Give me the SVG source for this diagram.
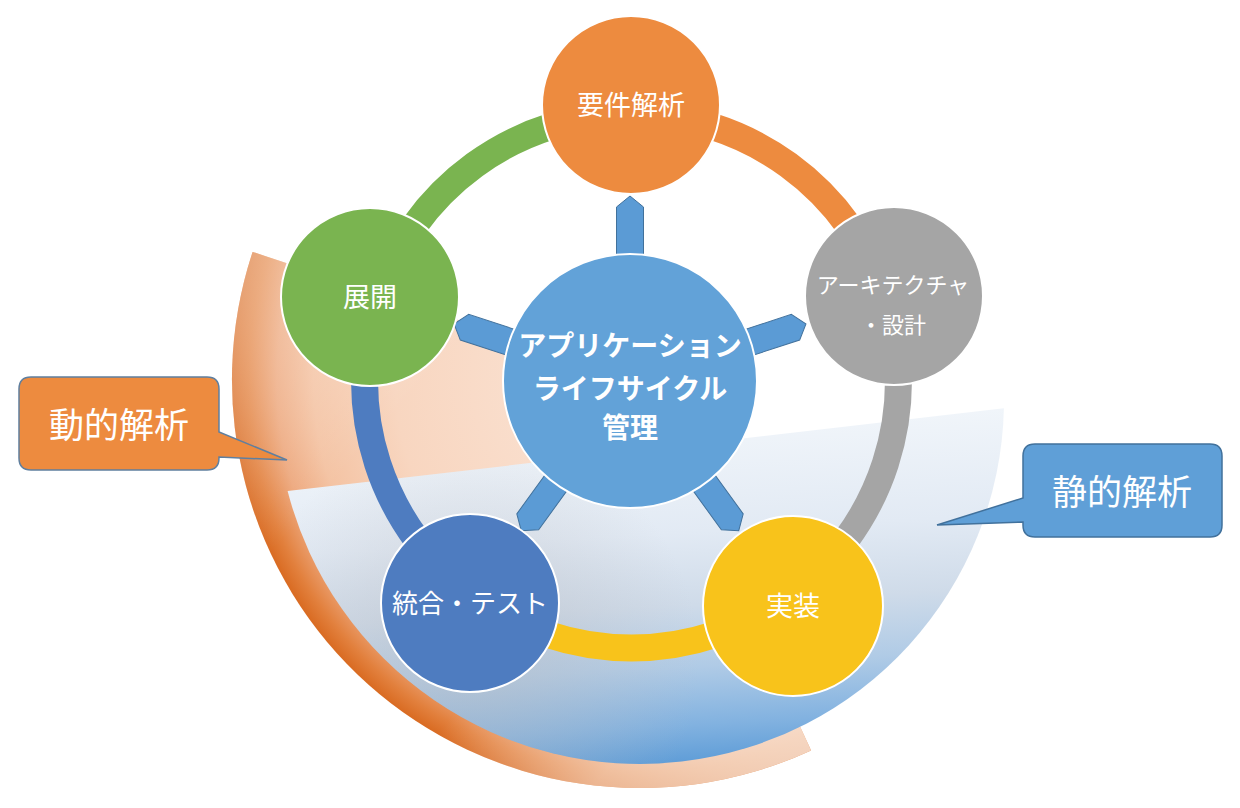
<svg xmlns="http://www.w3.org/2000/svg" width="1240" height="808" viewBox="0 0 1240 808">
  <defs>
    <radialGradient id="gOrange" gradientUnits="userSpaceOnUse" cx="640" cy="380" r="408">
      <stop offset="0" stop-color="#fbe6d9"/>
      <stop offset="0.6" stop-color="#f8d6c0"/>
      <stop offset="0.8" stop-color="#f4c3a3"/>
      <stop offset="0.89" stop-color="#eda77c"/>
      <stop offset="0.96" stop-color="#e2803d"/>
      <stop offset="1" stop-color="#d96b22"/>
    </radialGradient>
    <linearGradient id="gOrangeFade" gradientUnits="userSpaceOnUse" x1="255" y1="253" x2="820" y2="760">
      <stop offset="0" stop-color="#ffffff" stop-opacity="0.4"/>
      <stop offset="0.28" stop-color="#ffffff" stop-opacity="0"/>
      <stop offset="0.6" stop-color="#ffffff" stop-opacity="0"/>
      <stop offset="0.8" stop-color="#ffffff" stop-opacity="0.5"/>
      <stop offset="1" stop-color="#ffffff" stop-opacity="0.72"/>
    </linearGradient>
    <linearGradient id="gBlue" gradientUnits="userSpaceOnUse" x1="640" y1="408" x2="660" y2="770">
      <stop offset="0" stop-color="#f3f7fb"/>
      <stop offset="0.35" stop-color="#e2eaf4"/>
      <stop offset="0.55" stop-color="#cfdbe9"/>
      <stop offset="0.72" stop-color="#b0cbe6"/>
      <stop offset="0.88" stop-color="#82b2e0"/>
      <stop offset="1" stop-color="#5a9ad6"/>
    </linearGradient>
    <radialGradient id="gGray" gradientUnits="userSpaceOnUse" cx="470" cy="660" r="230">
      <stop offset="0" stop-color="#b9bcc3" stop-opacity="0.55"/>
      <stop offset="1" stop-color="#b9bcc3" stop-opacity="0"/>
    </radialGradient>
    <style>
      .txt { font-family: "Noto Sans CJK JP", "Noto Sans CJK SC", sans-serif; fill: #ffffff; text-anchor: middle; }
      .node { stroke: #ffffff; stroke-width: 2; }
      .ring { fill: none; stroke-width: 27; }
      .arrow { fill: #5b9bd5; stroke: #41719c; stroke-width: 1; }
    </style>
  </defs>

  <g id="background">
    <path id="dynamic-area" d="M 640 380 L 252.6 251.9 A 408 408 0 0 0 811.1 750.4 Z" fill="url(#gOrange)"/>
    <path d="M 640 380 L 252.6 251.9 A 408 408 0 0 0 811.1 750.4 Z" fill="url(#gOrangeFade)"/>
    <path id="static-area" d="M 1003.9 408.3 A 364 364 0 0 1 287.6 491.1 Z" fill="url(#gBlue)"/>
    <path d="M 1003.9 408.3 A 364 364 0 0 1 287.6 491.1 Z" fill="url(#gGray)"/>
  </g>

  <g id="connectors">
    <path class="ring" stroke="#ed8b3f" d="M 631.5 114 A 267 267 0 0 1 885.4 298.5"/>
    <path class="ring" stroke="#a5a5a5" d="M 885.4 298.5 A 267 267 0 0 1 788.4 597"/>
    <path class="ring" stroke="#f8c31b" d="M 788.4 597 A 267 267 0 0 1 474.6 597"/>
    <path class="ring" stroke="#4e7cc0" d="M 474.6 597 A 267 267 0 0 1 377.6 298.5"/>
    <path class="ring" stroke="#7ab450" d="M 377.6 298.5 A 267 267 0 0 1 631.5 114"/>
    <g id="arrows">
      <polygon class="arrow" transform="translate(630,381) rotate(0)" points="-13.5,-118 13.5,-118 13.5,-174 0,-185 -13.5,-174"/>
      <polygon class="arrow" transform="translate(630,381) rotate(72)" points="-13.5,-118 13.5,-118 13.5,-174 0,-185 -13.5,-174"/>
      <polygon class="arrow" transform="translate(630,381) rotate(144)" points="-13.5,-118 13.5,-118 13.5,-174 0,-185 -13.5,-174"/>
      <polygon class="arrow" transform="translate(630,381) rotate(216)" points="-13.5,-118 13.5,-118 13.5,-174 0,-185 -13.5,-174"/>
      <polygon class="arrow" transform="translate(630,381) rotate(288)" points="-13.5,-118 13.5,-118 13.5,-174 0,-185 -13.5,-174"/>
    </g>
  </g>

  <g id="center">
    <circle class="node" cx="630" cy="381" r="127" fill="#62a2d8"/>
    <text class="txt" font-size="28" font-weight="bold" x="630" y="356">アプリケーション</text>
    <text class="txt" font-size="28" font-weight="bold" x="630" y="399">ライフサイクル</text>
    <text class="txt" font-size="28" font-weight="bold" x="630" y="438">管理</text>
  </g>

  <g id="requirements">
    <circle class="node" cx="631" cy="105" r="89" fill="#ed8b3f"/>
    <text class="txt" font-size="27" x="631" y="115">要件解析</text>
  </g>

  <g id="architecture">
    <circle class="node" cx="894" cy="296" r="89" fill="#a5a5a5"/>
    <text class="txt" font-size="22" x="893" y="293">アーキテクチャ</text>
    <text class="txt" font-size="22" x="893" y="333">・設計</text>
  </g>

  <g id="implementation">
    <circle class="node" cx="793" cy="606" r="90" fill="#f8c31b"/>
    <text class="txt" font-size="27" x="793" y="616">実装</text>
  </g>

  <g id="integration">
    <circle class="node" cx="470" cy="603" r="89" fill="#4e7cc0"/>
    <text class="txt" font-size="26" x="470" y="613">統合・テスト</text>
  </g>

  <g id="deployment">
    <circle class="node" cx="370" cy="297" r="89" fill="#7ab450"/>
    <text class="txt" font-size="27" x="370" y="307">展開</text>
  </g>

  <g id="callout-dynamic">
    <path d="M 31 377 H 207 Q 219 377 219 389 V 432 L 287 460 L 219 457 V 458 Q 219 470 207 470 H 31 Q 19 470 19 458 V 389 Q 19 377 31 377 Z" fill="#ed8b3f" stroke="#5f7f9f" stroke-width="1.5"/>
    <text class="txt" font-size="35" x="119" y="438">動的解析</text>
  </g>

  <g id="callout-static">
    <path d="M 1035 444 H 1210 Q 1222 444 1222 456 V 525 Q 1222 537 1210 537 H 1035 Q 1023 537 1023 525 V 522 L 937 525 L 1023 498 V 456 Q 1023 444 1035 444 Z" fill="#5f9fd7" stroke="#41719c" stroke-width="1.5"/>
    <text class="txt" font-size="35" x="1122" y="505">静的解析</text>
  </g>
</svg>
